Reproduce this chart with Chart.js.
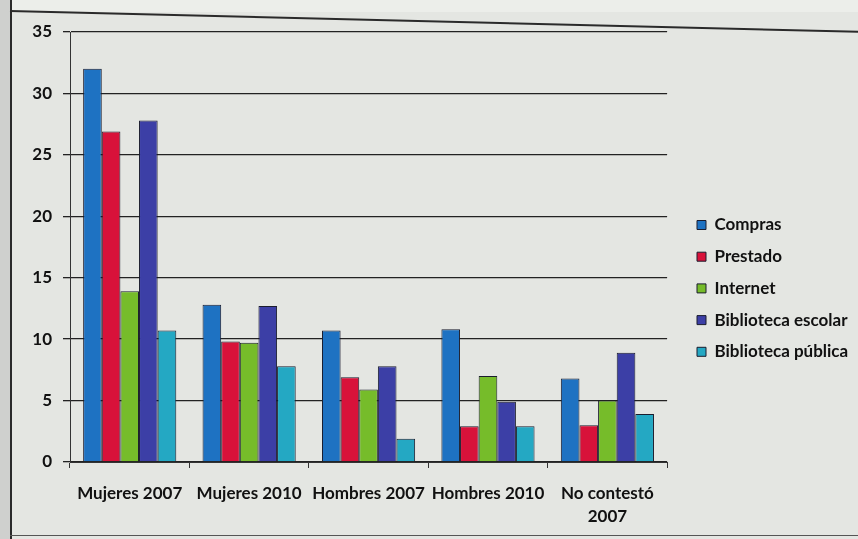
<!DOCTYPE html>
<html>
<head>
<meta charset="utf-8">
<script src="https://cdn.jsdelivr.net/npm/chart.js@4.4.1/dist/chart.umd.min.js"></script>
<style>
  html,body{margin:0;padding:0;}
  body{width:858px;height:539px;overflow:hidden;background:#e4e6e2;position:relative;font-family:Lato,sans-serif;}
  #wrap{position:absolute;left:0;top:0;width:858px;height:539px;}
  .leftstrip{position:absolute;left:0;top:0;width:10px;height:539px;background:#cfd0ce;border-right:2px solid #2a2a2a;}
  .topline{position:absolute;left:10px;top:10px;width:860px;height:0;border-top:2px solid #2a2a2a;transform-origin:0 0;transform:rotate(1.4deg);}
  .topfill{position:absolute;left:0;top:0;width:858px;height:12px;background:#eceeea;}
  .botline{position:absolute;left:10px;top:535px;width:848px;height:0;border-top:1px solid #555;}
</style>
</head>
<body>
<div class="topfill"></div>
<div class="leftstrip"></div>
<div class="topline"></div>
<div class="botline"></div>
<div id="wrap"><canvas id="c" width="858" height="539"></canvas></div>
<script>
const categories = ['Mujeres 2007', 'Mujeres 2010', 'Hombres 2007', 'Hombres 2010', ['No contestó', '2007']];
const seriesNames = ['Compras', 'Prestado', 'Internet', 'Biblioteca escolar', 'Biblioteca pública'];
const compras = [32, 12.8, 10.7, 10.8, 6.8];
const prestado = [26.9, 9.8, 6.9, 2.9, 3.0];
const internet = [13.9, 9.7, 5.9, 7.0, 5.0];
const bibEscolar = [27.8, 12.7, 7.8, 4.9, 8.9];
const bibPublica = [10.7, 7.8, 1.9, 2.9, 3.9];
const yTicks = [0, 5, 10, 15, 20, 25, 30, 35];

const seriesValues = [compras, prestado, internet, bibEscolar, bibPublica];
const colors = ['#1e72c2', '#d8123a', '#76bc2a', '#3c3fa6', '#24a8c3'];

const legendShift = {
  id: 'legendShift',
  afterLayout(chart) {
    const lg = chart.legend;
    if (!lg) return;
    const pad = lg.options.labels.padding;
    const fs = lg.options.labels.font.size;
    const w = lg.right - lg.left;
    const h = lg.bottom - lg.top;
    lg.left = 697 - pad;
    lg.right = lg.left + w;
    lg.top = 225 - fs / 2 - pad;
    lg.bottom = lg.top + h;
  }
};

new Chart(document.getElementById('c'), {
  type: 'bar',
  data: {
    labels: categories,
    datasets: seriesNames.map((name, i) => ({
      label: name,
      data: seriesValues[i],
      backgroundColor: colors[i],
      borderColor: '#1b1d2e',
      borderWidth: 1,
      categoryPercentage: 0.78,
      barPercentage: 1.0
    }))
  },
  options: {
    responsive: false,
    animation: false,
    layout: { padding: { left: 30, right: 15, top: 32, bottom: 17 } },
    plugins: {
      tooltip: { enabled: false },
      legend: {
        position: 'right',
        align: 'start',
        fullSize: false,
        labels: {
          boxWidth: 9,
          boxHeight: 9,
          padding: 14.7,
          color: '#111',
          font: { family: 'Lato', size: 17, weight: 'bold' }
        }
      }
    },
    scales: {
      x: {
        afterFit: s => { s.height = 60; },
        grid: { display: true, drawOnChartArea: false, drawTicks: true, tickLength: 6, offset: true, color: '#333' },
        border: { display: true, color: '#333', width: 1 },
        ticks: {
          color: '#111',
          padding: 14.5,
          maxRotation: 0,
          autoSkip: false,
          font: { family: 'Lato', size: 17, weight: 'bold', lineHeight: 1.35 }
        }
      },
      y: {
        min: 0,
        max: 35,
        afterFit: s => { s.width = 40; },
        afterBuildTicks: s => { s.ticks = yTicks.map(v => ({ value: v })); },
        grid: { color: '#222', lineWidth: 1.3, tickLength: 7 },
        border: { display: true, color: '#333', width: 1 },
        ticks: {
          color: '#111',
          padding: 11,
          font: { family: 'Lato', size: 17, weight: 'bold' }
        }
      }
    }
  },
  plugins: [legendShift]
});
</script>
</body>
</html>
